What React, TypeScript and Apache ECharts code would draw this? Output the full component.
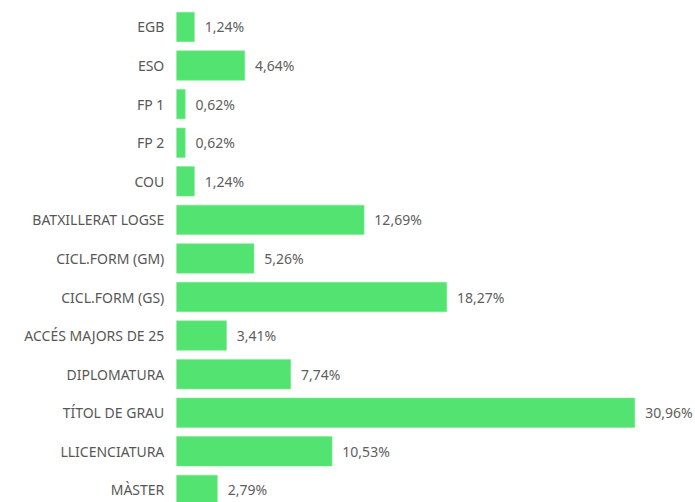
import React, { useEffect, useRef } from "react";
import * as echarts from "echarts";

const categories = [
  "EGB",
  "ESO",
  "FP 1",
  "FP 2",
  "COU",
  "BATXILLERAT LOGSE",
  "CICL.FORM (GM)",
  "CICL.FORM (GS)",
  "ACCÉS MAJORS DE 25",
  "DIPLOMATURA",
  "TÍTOL DE GRAU",
  "LLICENCIATURA",
  "MÀSTER",
];
const values = [1.24, 4.64, 0.62, 0.62, 1.24, 12.69, 5.26, 18.27, 3.41, 7.74, 30.96, 10.53, 2.79];

export default function App() {
  const ref = useRef<HTMLDivElement>(null);
  useEffect(() => {
    if (!ref.current) return;
    const chart = echarts.init(ref.current, null, { renderer: "svg" });
    const font = "'Noto Sans', 'Open Sans', sans-serif";
    chart.setOption({
      animation: false,
      grid: { left: 176.3, right: 0, top: 7.7, height: 501.5, containLabel: false },
      xAxis: {
        type: "value",
        min: 0,
        max: 35,
        show: false,
      },
      yAxis: {
        type: "category",
        inverse: true,
        data: categories,
        axisLine: { show: false },
        axisTick: { show: false },
        splitLine: { show: false },
        axisLabel: {
          margin: 12,
          color: "#575757",
          fontSize: 14,
          fontFamily: font,
        },
      },
      series: [
        {
          type: "bar",
          data: values,
          barCategoryGap: "22%",
          itemStyle: { color: "#53e370", borderColor: "#7deb93", borderWidth: 0.6 },
          label: {
            show: true,
            position: "right",
            distance: 10,
            color: "#5e5e5e",
            fontSize: 14,
            fontFamily: font,
            formatter: (p: any) => Number(p.value).toFixed(2).replace(".", ",") + "%",
          },
        },
      ],
    });
    return () => chart.dispose();
  }, []);
  return (
    <div style={{ position: "fixed", left: 0, top: 0, width: 695, height: 502, overflow: "hidden", background: "#fff" }}>
      <div ref={ref} style={{ width: 695, height: 520 }} />
    </div>
  );
}
